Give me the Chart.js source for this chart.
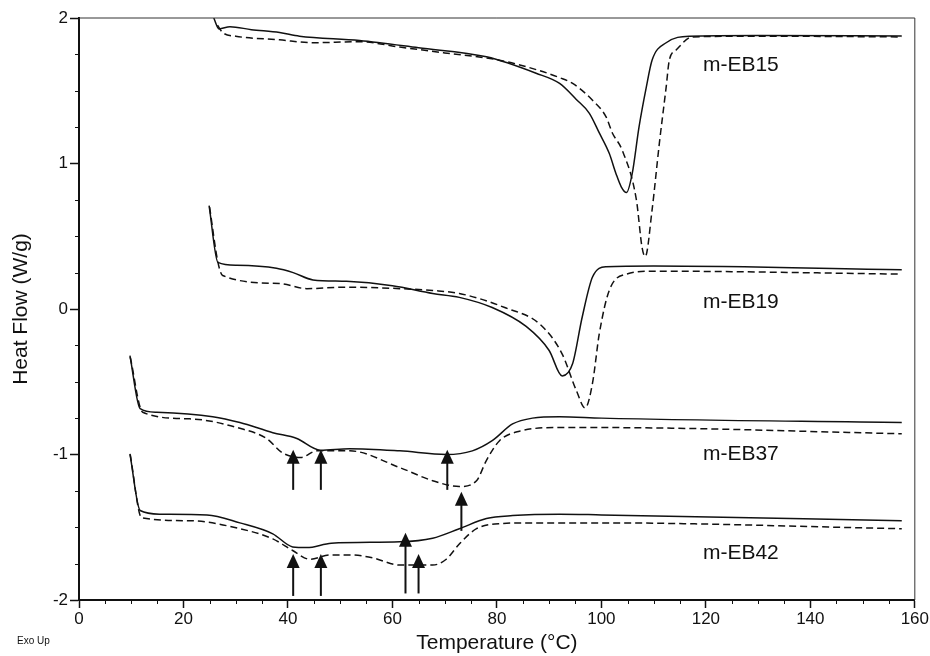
<!DOCTYPE html>
<html>
<head>
<meta charset="utf-8">
<script src="https://cdn.jsdelivr.net/npm/chart.js@4.4.1/dist/chart.umd.min.js"></script>
<style>
  html, body { margin: 0; padding: 0; background: #fff; }
  #wrap { width: 930px; height: 656px; }
</style>
</head>
<body>
<div id="wrap"><canvas id="dsc" width="930" height="656"></canvas></div>
<script>
// DSC heating (solid) / second scan (dashed) traces, Temperature in °C, Heat flow in W/g
const eb15SolidT = [25.8, 26.8, 28.9, 33, 38.4, 42.2, 53.7, 65, 78, 87.5, 92, 95.2, 97.7, 99.6, 101.5, 102.8, 103.8, 104.8, 105.9, 107.2, 108.6, 109.7, 112.4, 116.8, 130, 157.5];
const eb15Solid  = [2.0, 1.925, 1.94, 1.92, 1.90, 1.875, 1.845, 1.795, 1.733, 1.62, 1.55, 1.44, 1.345, 1.21, 1.07, 0.93, 0.84, 0.80, 0.93, 1.25, 1.525, 1.71, 1.83, 1.875, 1.88, 1.876];
const eb15DashT  = [26.5, 27.5, 30, 38.4, 44.7, 53.7, 61.4, 70, 80.5, 88, 92, 94.5, 98.3, 100.9, 102.1, 104, 106.7, 107.8, 108.4, 109.7, 111.1, 112.4, 113, 114.3, 117.4, 130, 157.5];
const eb15Dash   = [1.95, 1.90, 1.875, 1.85, 1.83, 1.837, 1.80, 1.76, 1.71, 1.64, 1.59, 1.55, 1.435, 1.32, 1.21, 1.09, 0.75, 0.42, 0.36, 0.68, 1.14, 1.525, 1.71, 1.78, 1.87, 1.875, 1.87];

const eb19SolidT = [24.9, 26.6, 30.2, 37.8, 41, 44.8, 51.2, 60, 67.7, 72.8, 79.1, 85.6, 90, 92.5, 94.5, 96.3, 98.3, 100.9, 110, 157.5];
const eb19Solid  = [0.71, 0.32, 0.30, 0.28, 0.25, 0.20, 0.19, 0.16, 0.107, 0.08, 0.01, -0.12, -0.285, -0.46, -0.375, -0.06, 0.22, 0.29, 0.295, 0.27];
const eb19DashT  = [25.0, 26.6, 27.5, 38.4, 43.6, 51.2, 61.4, 67.7, 72.8, 81.5, 88.4, 92.5, 95.2, 96.9, 98.3, 99.6, 101.5, 104.8, 110, 157.5];
const eb19Dash   = [0.70, 0.32, 0.23, 0.175, 0.14, 0.15, 0.14, 0.127, 0.107, 0.01, -0.11, -0.31, -0.56, -0.68, -0.51, -0.17, 0.127, 0.24, 0.26, 0.24];

const eb37SolidT = [9.75, 11.7, 14.9, 25.6, 30.8, 37.1, 41.7, 46.2, 51.8, 61.4, 70.3, 75.3, 79.1, 83, 86.8, 92, 100, 157.5];
const eb37Solid  = [-0.32, -0.685, -0.71, -0.74, -0.78, -0.85, -0.89, -0.97, -0.96, -0.975, -1.0, -0.975, -0.905, -0.79, -0.75, -0.74, -0.75, -0.78];
const eb37DashT  = [9.8, 12.2, 21.2, 30.8, 35.9, 39, 42.5, 45.5, 51.8, 61.4, 67.7, 72.8, 76.1, 78, 80.5, 84.3, 92, 100, 157.5];
const eb37Dash   = [-0.33, -0.71, -0.755, -0.82, -0.89, -0.99, -1.02, -0.975, -0.975, -1.09, -1.18, -1.22, -1.18, -1.04, -0.905, -0.84, -0.815, -0.815, -0.857];

const eb42SolidT = [9.75, 11.7, 15.5, 24.5, 30.8, 37.1, 40.9, 43.6, 48.3, 61.4, 67.7, 72.8, 78, 83, 92, 100, 157.5];
const eb42Solid  = [-0.995, -1.385, -1.41, -1.415, -1.47, -1.545, -1.635, -1.64, -1.61, -1.60, -1.575, -1.51, -1.44, -1.42, -1.41, -1.415, -1.455];
const eb42DashT  = [9.8, 12, 21.2, 30.8, 37.1, 40.9, 44.2, 48, 51.8, 56.2, 61.4, 67.7, 70.3, 72.8, 76.1, 80.5, 86.8, 100, 157.5];
const eb42Dash   = [-1.0, -1.435, -1.455, -1.51, -1.58, -1.66, -1.72, -1.69, -1.69, -1.71, -1.76, -1.76, -1.72, -1.615, -1.51, -1.475, -1.47, -1.47, -1.51];

// transition arrows: temperature, head tip value, tail value
const arrowT    = [41, 46.3, 70.5, 73.2, 41, 46.3, 62.5, 65];
const arrowTip  = [-0.967, -0.967, -0.967, -1.256, -1.683, -1.683, -1.538, -1.683];
const arrowBase = [-1.243, -1.243, -1.243, -1.525, -1.972, -1.972, -1.955, -1.955];

// sample labels
const sampleNames  = ['m-EB15', 'm-EB19', 'm-EB37', 'm-EB42'];
const sampleLabelT = [126.7, 126.7, 126.7, 126.7];
const sampleLabelV = [1.676, 0.045, -0.995, -1.676];

const xTicks = [0, 20, 40, 60, 80, 100, 120, 140, 160];
const yTicks = [-2, -1, 0, 1, 2];

const FONT = '"Liberation Sans", Arial, Helvetica, sans-serif';
const INK = '#111';

function pts(xs, ys) {
  return xs.map((t, i) => ({ x: t, y: ys[i] }));
}
function trace(xs, ys, dashed) {
  return {
    data: pts(xs, ys),
    showLine: true,
    borderColor: INK,
    borderWidth: 1.5,
    borderDash: dashed ? [7, 4] : [],
    pointRadius: 0,
    cubicInterpolationMode: 'monotone',
    fill: false
  };
}

/* extra drawing: frame, minor ticks, arrows, texts */
const extras = {
  id: 'extras',
  afterDatasetsDraw(chart) {
    const { ctx, chartArea: a, scales: { x, y } } = chart;
    ctx.save();
    ctx.strokeStyle = '#333';
    ctx.lineWidth = 1;
    ctx.beginPath();
    ctx.moveTo(a.left, a.top);
    ctx.lineTo(a.right, a.top);
    ctx.lineTo(a.right, a.bottom);
    ctx.stroke();

    // minor ticks
    ctx.strokeStyle = INK;
    ctx.lineWidth = 1;
    ctx.beginPath();
    for (let t = 0; t <= 160; t += 5) {
      if (t % 20 === 0) continue;
      const px = Math.round(x.getPixelForValue(t)) + 0.5;
      ctx.moveTo(px, a.bottom);
      ctx.lineTo(px, a.bottom + 4);
    }
    for (let v = -2; v <= 2; v += 0.25) {
      if (Math.abs(v - Math.round(v)) < 1e-6) continue;
      const py = Math.round(y.getPixelForValue(v)) + 0.5;
      ctx.moveTo(a.left, py);
      ctx.lineTo(a.left - 4, py);
    }
    ctx.stroke();

    // arrows
    ctx.fillStyle = INK;
    ctx.strokeStyle = INK;
    arrowT.forEach((t, i) => {
      const px = x.getPixelForValue(t);
      const tip = y.getPixelForValue(arrowTip[i]);
      const base = y.getPixelForValue(arrowBase[i]);
      ctx.lineWidth = 2;
      ctx.beginPath();
      ctx.moveTo(px, base);
      ctx.lineTo(px, tip + 10);
      ctx.stroke();
      ctx.beginPath();
      ctx.moveTo(px, tip);
      ctx.lineTo(px - 6.5, tip + 14);
      ctx.lineTo(px + 6.5, tip + 14);
      ctx.closePath();
      ctx.fill();
    });

    // sample labels
    ctx.font = '21px ' + FONT;
    ctx.textAlign = 'center';
    ctx.textBaseline = 'middle';
    sampleNames.forEach((n, i) => {
      ctx.fillText(n, x.getPixelForValue(sampleLabelT[i]), y.getPixelForValue(sampleLabelV[i]));
    });

    ctx.font = '10px ' + FONT;
    ctx.textAlign = 'left';
    ctx.fillText('Exo Up', 17, 641);
    ctx.restore();
  }
};

new Chart(document.getElementById('dsc'), {
  type: 'scatter',
  data: {
    datasets: [
      trace(eb15SolidT, eb15Solid, false),
      trace(eb15DashT, eb15Dash, true),
      trace(eb19SolidT, eb19Solid, false),
      trace(eb19DashT, eb19Dash, true),
      trace(eb37SolidT, eb37Solid, false),
      trace(eb37DashT, eb37Dash, true),
      trace(eb42SolidT, eb42Solid, false),
      trace(eb42DashT, eb42Dash, true)
    ]
  },
  options: {
    responsive: false,
    animation: false,
    layout: { padding: { left: 0, right: 14, top: 18, bottom: 0 } },
    plugins: {
      legend: { display: false },
      tooltip: { enabled: false }
    },
    scales: {
      x: {
        type: 'linear',
        min: 0,
        max: 160,
        afterBuildTicks: s => { s.ticks = xTicks.map(v => ({ value: v })); },
        afterFit: s => { s.height = 56; },
        border: { display: true, color: INK, width: 2 },
        grid: { drawOnChartArea: false, drawTicks: true, tickLength: 8, tickWidth: 1.5, tickColor: INK },
        ticks: { color: INK, padding: 1, maxRotation: 0, font: { family: FONT, size: 17 } },
        title: {
          display: true,
          text: 'Temperature (°C)',
          color: INK,
          padding: { top: 0, bottom: 0 },
          font: { family: FONT, size: 21 }
        }
      },
      y: {
        type: 'linear',
        min: -2,
        max: 2,
        afterBuildTicks: s => { s.ticks = yTicks.map(v => ({ value: v })); },
        afterFit: s => { s.width = 79; },
        border: { display: true, color: INK, width: 2 },
        grid: { drawOnChartArea: false, drawTicks: true, tickLength: 9, tickWidth: 1.5, tickColor: INK },
        ticks: { color: INK, padding: 2, font: { family: FONT, size: 17 } },
        title: {
          display: true,
          text: 'Heat Flow (W/g)',
          color: INK,
          padding: { top: 9, bottom: 0 },
          font: { family: FONT, size: 21 }
        }
      }
    }
  },
  plugins: [extras]
});
</script>
</body>
</html>
